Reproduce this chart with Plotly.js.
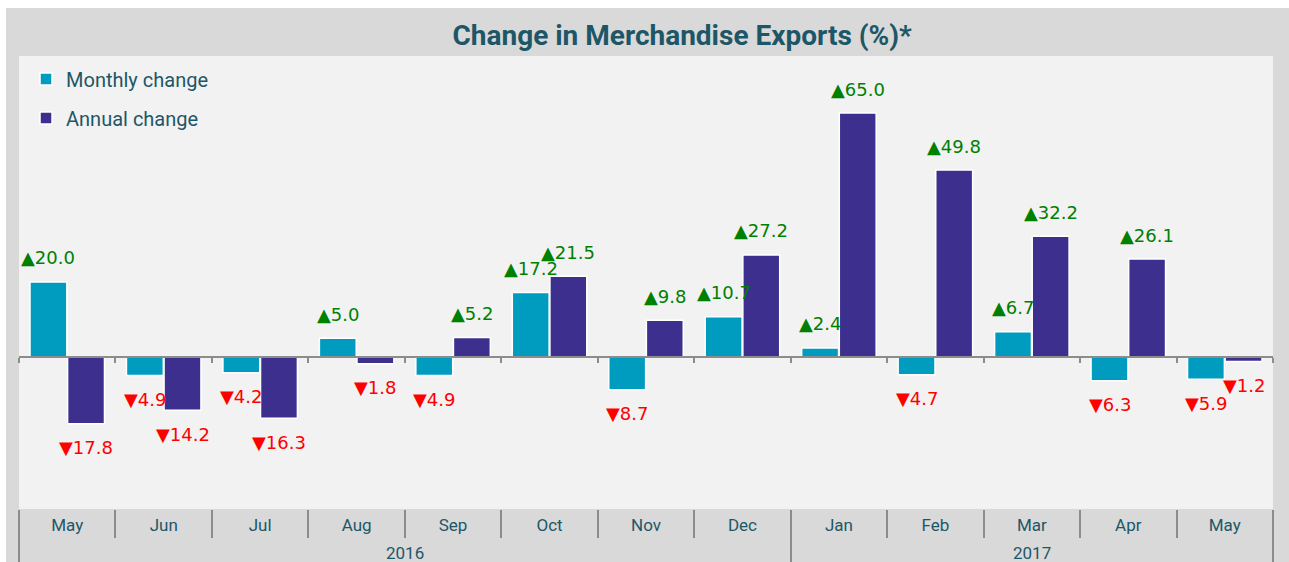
<!DOCTYPE html>
<html>
<head>
<meta charset="utf-8">
<script src="https://cdn.plot.ly/plotly-3.0.1.min.js"></script>
<style>
  html, body { margin: 0; padding: 0; background: #ffffff; }
  #chart { position: absolute; left: 6px; top: 8px; width: 1283px; height: 554px; }
</style>
</head>
<body>
<div id="chart"></div>
<script>
// ---- Data ----
const months = ["May","Jun","Jul","Aug","Sep","Oct","Nov","Dec","Jan","Feb","Mar","Apr","May"];
const years  = ["2016","2016","2016","2016","2016","2016","2016","2016","2017","2017","2017","2017","2017"];
const monthlyChange = [20.0, -4.9, -4.2, 5.0, -4.9, 17.2, -8.7, 10.7, 2.4, -4.7, 6.7, -6.3, -5.9];
const annualChange  = [-17.8, -14.2, -16.3, -1.8, 5.2, 21.5, 9.8, 27.2, 65.0, 49.8, 32.2, 26.1, -1.2];
const seriesNames = ["Monthly change", "Annual change"];

// ---- Style ----
const W = 1283, H = 554;
const margin = {l: 13, r: 16, t: 48, b: 53};
const yRange = [-40.5, 80.2];
const bargap = 0.22;
const colors = ["#009cc0", "#3c2f8e"];
const textColor = "#1d5767";
const lineColor = "#8c8c8c";
const labelFont = "DejaVu Sans, sans-serif";
const mainFont = "Roboto, 'Open Sans', sans-serif";

const plotW = W - margin.l - margin.r;
const catW = plotW / months.length;
const barOffset = catW * (1 - bargap) / 4;

// category positions on the x axis
const xIdx = months.map((m, i) => i);
const xRange = [-0.5, months.length - 0.5];
const monthBounds = months.map((m, i) => i - 0.5).concat([months.length - 0.5]);

// year groups derived from the years array
const yearGroups = [];
years.forEach((y, i) => {
  const g = yearGroups[yearGroups.length - 1];
  if (g && g.year === y) { g.end = i; } else { yearGroups.push({year: y, start: i, end: i}); }
});
const yearBounds = [yearGroups[0].start - 0.5].concat(yearGroups.map(g => g.end + 0.5));

function barTrace(vals, name, color) {
  return {
    type: "bar",
    x: xIdx,
    y: vals,
    name: name,
    legendgroup: name,
    marker: {color: color, line: {color: "#ffffff", width: 1.5}},
    hoverinfo: "skip"
  };
}

const traces = [
  barTrace(monthlyChange, seriesNames[0], colors[0]),
  barTrace(annualChange, seriesNames[1], colors[1]),
  {type: "scatter", x: [], y: [], xaxis: "x2", showlegend: false, hoverinfo: "skip"},
  {type: "scatter", x: [], y: [], xaxis: "x3", showlegend: false, hoverinfo: "skip"},
  {type: "scatter", x: [], y: [], xaxis: "x4", showlegend: false, hoverinfo: "skip"}
];

function labelAnn(v, i, shift) {
  const up = v >= 0;
  return {
    xref: "x", yref: "y",
    x: i, y: v,
    xshift: shift,
    yshift: up ? 24 : -24,
    text: (up ? "▲" : "▼") + Math.abs(v).toFixed(1),
    showarrow: false,
    xanchor: "center", yanchor: "middle",
    font: {family: labelFont, size: 18, color: up ? "#008000" : "#ff0000"}
  };
}

const annotations = [];
monthlyChange.forEach((v, i) => annotations.push(labelAnn(v, i, -barOffset)));
annualChange.forEach((v, i) => annotations.push(labelAnn(v, i, barOffset)));
yearGroups.forEach(g => annotations.push({
  xref: "x", yref: "paper",
  x: (g.start + g.end) / 2, y: 0,
  yshift: -44,
  text: g.year,
  showarrow: false,
  xanchor: "center", yanchor: "middle",
  font: {family: mainFont, size: 17, color: textColor}
}));

function tickAxis(extra) {
  return Object.assign({
    type: "linear",
    overlaying: "x",
    range: xRange,
    showgrid: false,
    zeroline: false,
    showticklabels: false,
    tickmode: "array",
    tickwidth: 2,
    tickcolor: lineColor,
    ticks: "outside",
    fixedrange: true
  }, extra);
}

const layout = {
  width: W, height: H,
  margin: margin,
  paper_bgcolor: "#d9d9d9",
  plot_bgcolor: "#f2f2f2",
  barmode: "group",
  bargap: bargap,
  bargroupgap: 0.02,
  title: {
    text: "Change in Merchandise Exports (%)*",
    xref: "container", x: 0.527, xanchor: "center",
    yref: "container", y: 1 - 27 / H, yanchor: "middle",
    font: {family: mainFont, size: 28, color: textColor, weight: 700}
  },
  showlegend: true,
  legend: {
    x: 0.0056, y: 0.992, xanchor: "left", yanchor: "top",
    bgcolor: "rgba(0,0,0,0)",
    font: {family: mainFont, size: 20, color: textColor},
    traceorder: "grouped",
    tracegroupgap: 10
  },
  xaxis: {
    type: "linear",
    range: xRange,
    tickmode: "array",
    tickvals: xIdx,
    ticktext: months,
    showgrid: false,
    zeroline: false,
    showline: false,
    ticks: "",
    ticklabelstandoff: 4,
    tickfont: {family: mainFont, size: 17, color: textColor},
    fixedrange: true
  },
  // zero line with small boundary ticks
  xaxis2: tickAxis({
    anchor: "free",
    position: (0 - yRange[0]) / (yRange[1] - yRange[0]),
    side: "bottom",
    showline: true,
    linecolor: lineColor,
    linewidth: 2,
    ticklen: 5,
    tickvals: monthBounds
  }),
  // month separators below the plot
  xaxis3: tickAxis({
    anchor: "y",
    side: "bottom",
    showline: false,
    ticklen: 28,
    tickvals: monthBounds
  }),
  // year separators below the plot
  xaxis4: tickAxis({
    anchor: "y",
    side: "bottom",
    showline: false,
    ticklen: 56,
    tickvals: yearBounds
  }),
  yaxis: {
    range: yRange,
    showgrid: false,
    zeroline: false,
    showline: false,
    showticklabels: false,
    ticks: "",
    fixedrange: true
  },
  annotations: annotations
};

Plotly.newPlot("chart", traces, layout, {displayModeBar: false, staticPlot: true});
</script>
</body>
</html>
